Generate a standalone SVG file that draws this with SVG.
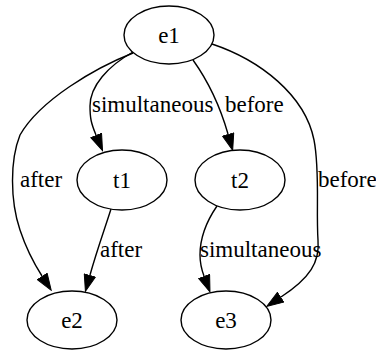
<svg xmlns="http://www.w3.org/2000/svg" width="376" height="352" viewBox="0 0 376 352">
<defs>
<style>
.node ellipse{fill:#fff;stroke:#000;stroke-width:1.4}
.node text{font-family:"Liberation Serif","Times New Roman",serif;font-size:23px;text-anchor:middle;fill:#000}
.edge path{fill:none;stroke:#000;stroke-width:1.4}
.lbl{font-family:"Liberation Serif","Times New Roman",serif;font-size:23px;fill:#000}
</style>
<marker id="ah" markerUnits="userSpaceOnUse" markerWidth="18" markerHeight="13" viewBox="0 0 18 13" refX="0" refY="6.5" orient="auto">
<path d="M0.5,0.7 L17,6.5 L0.5,12.3 Z" fill="#000" stroke="#000" stroke-width="1"/>
</marker>
</defs>
<rect width="376" height="352" fill="#fff"/>
<g id="edges">
<g class="edge" id="e1_t1"><path d="M133,52 C108,66 90,86 90,106 C90,118 91,123 96,135" marker-end="url(#ah)"/><text class="lbl" x="92" y="112">simultaneous</text></g>
<g class="edge" id="e1_t2"><path d="M193,60 C208,81 220,106 228,134" marker-end="url(#ah)"/><text class="lbl" x="225" y="112">before</text></g>
<g class="edge" id="e1_e2"><path d="M133,53 C95,68 40,100 20,135 C10,160 10,200 20,230 C25,245 33,262 42,276" marker-end="url(#ah)"/><text class="lbl" x="20" y="187">after</text></g>
<g class="edge" id="e1_e3"><path d="M212,44 C260,60 305,95 314,140 C320,170 316,210 318,240 C320,262 310,278 281,297" marker-end="url(#ah)"/><text class="lbl" x="318" y="187">before</text></g>
<g class="edge" id="t1_e2"><path d="M111,209 C105,228 97,250 90,275" marker-end="url(#ah)"/><text class="lbl" x="100" y="257">after</text></g>
<g class="edge" id="t2_e3"><path d="M217,206 C206,222 200,240 200,255 C200,262 201,268 204,276" marker-end="url(#ah)"/><text class="lbl" x="200" y="257">simultaneous</text></g>
</g>
<g class="node" id="e1"><ellipse cx="169" cy="35" rx="45" ry="29"/><text x="169" y="43">e1</text></g>
<g class="node" id="t1"><ellipse cx="122" cy="180" rx="45" ry="30"/><text x="122" y="188">t1</text></g>
<g class="node" id="t2"><ellipse cx="240" cy="180" rx="45" ry="30"/><text x="240" y="188">t2</text></g>
<g class="node" id="e2"><ellipse cx="72" cy="320" rx="45" ry="29"/><text x="72" y="328">e2</text></g>
<g class="node" id="e3"><ellipse cx="226" cy="320" rx="45" ry="29"/><text x="226" y="328">e3</text></g>
</svg>
